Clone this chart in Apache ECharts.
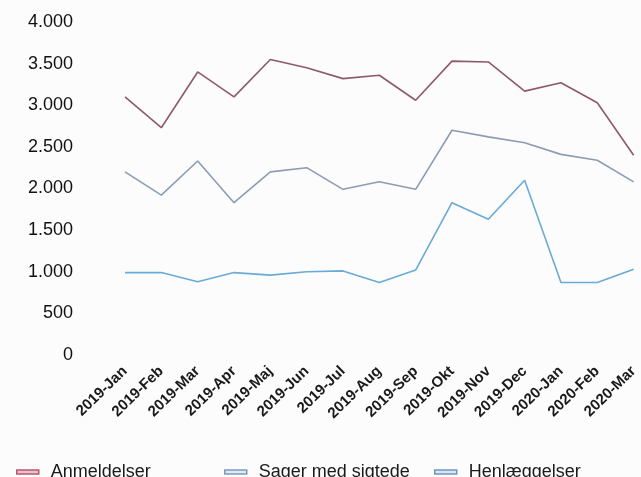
<!DOCTYPE html>
<html>
<head>
<meta charset="utf-8">
<script src="https://cdn.jsdelivr.net/npm/echarts@6/dist/echarts.min.js"></script>
<style>
  html, body { margin: 0; padding: 0; background: #fcfcfc; }
  #chart { width: 641px; height: 477px; }
</style>
</head>
<body>
<div id="chart"></div>
<script>
  // måneder og værdier
  const months = ['2019-Jan', '2019-Feb', '2019-Mar', '2019-Apr', '2019-Maj', '2019-Jun', '2019-Jul',
    '2019-Aug', '2019-Sep', '2019-Okt', '2019-Nov', '2019-Dec', '2020-Jan', '2020-Feb', '2020-Mar'];
  const anmeldelser = [3100, 2730, 3400, 3100, 3550, 3450, 3320, 3360, 3060, 3530, 3520, 3170, 3270, 3030, 2400];
  const sagerMedSigtede = [2200, 1920, 2330, 1830, 2200, 2250, 1990, 2080, 1990, 2700, 2620, 2550, 2410, 2340, 2080];
  const henlaeggelser = [990, 990, 880, 990, 960, 1000, 1010, 870, 1020, 1830, 1630, 2100, 870, 870, 1030];
  const yTicks = [0, 500, 1000, 1500, 2000, 2500, 3000, 3500, 4000];

  const font = "'Liberation Sans', Arial, sans-serif";
  let chart = echarts.init(document.getElementById('chart'));

  // en legend pr. serie, så de kan placeres hver for sig
  function legendFor(name, left, color, fill) {
    return {
      data: [name],
      left: left,
      top: 458,
      icon: 'rect',
      itemWidth: 22,
      itemHeight: 4,
      itemStyle: { color: fill, borderColor: color, borderWidth: 1.5 },
      textStyle: { fontFamily: font, fontSize: 18, color: '#1a1a1a', padding: [0, 0, 0, 7] }
    };
  }

  function line(name, data, color) {
    return {
      name: name,
      type: 'line',
      data: data,
      symbol: 'none',
      lineStyle: { color: color, width: 1.6 },
      itemStyle: { color: color }
    };
  }

  let option = {
    backgroundColor: '#fcfcfc',
    animation: false,
    grid: { left: 125, right: 1, top: 22, bottom: 122 },
    legend: [
      legendFor('Anmeldelser', 11, '#b5586e', '#e8c3cc'),
      legendFor('Sager med sigtede', 219, '#7f9ac0', '#dfe7f1'),
      legendFor('Henlæggelser', 429, '#6f96bd', '#dbe6f0')
    ],
    xAxis: {
      type: 'category',
      data: months,
      boundaryGap: false,
      axisLine: { show: false },
      axisTick: { show: false },
      axisLabel: {
        rotate: 44,
        interval: 0,
        margin: 14,
        fontFamily: font,
        fontSize: 15,
        fontWeight: 'bold',
        color: '#1a1a1a'
      }
    },
    yAxis: {
      type: 'value',
      min: yTicks[0],
      max: yTicks[yTicks.length - 1],
      interval: 500,
      splitLine: { show: false },
      axisLine: { show: false },
      axisTick: { show: false },
      axisLabel: {
        margin: 52,
        fontFamily: font,
        fontSize: 18,
        color: '#111',
        formatter: function (v) {
          return v >= 1000 ? Math.floor(v / 1000) + '.' + String(v % 1000).padStart(3, '0') : String(v);
        }
      }
    },
    series: [
      line('Anmeldelser', anmeldelser, '#8e5a68'),
      line('Sager med sigtede', sagerMedSigtede, '#8c9db3'),
      line('Henlæggelser', henlaeggelser, '#6aaad6')
    ]
  };

  chart.setOption(option);
</script>
</body>
</html>
